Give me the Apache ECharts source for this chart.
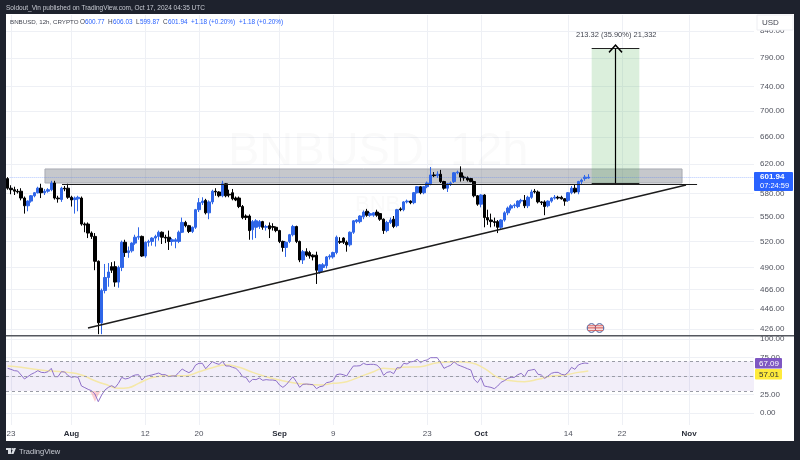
<!DOCTYPE html>
<html><head><meta charset="utf-8">
<style>html,body{margin:0;padding:0;background:#1E222D;width:800px;height:460px;overflow:hidden}
#panel{position:absolute;left:6px;top:14px;width:788px;height:427px;background:#fff}
#c{position:absolute;left:0;top:0;width:800px;height:460px}</style>
<script src="https://cdn.jsdelivr.net/npm/echarts@6/dist/echarts.min.js"></script>
</head><body><div id="panel"></div><div id="c"></div>
<script>
const opens=[600,587,585,583,583,574,564,570,577,581,587,581,583,585,594,574,572,587,587,575,572,573,574,541,541,530,526,497,432,465,479,491,491,474,490,519,507,509,518,525,526,503,519,520,524,526,531,525,525,520,520,520,531,543,539,532,537,559,568,571,555,569,583,582,577,593,579,581,574,574,563,551,551,534,537,538,544,537,539,538,537,533,520,513,520,528,538,520,498.5,508,507,504,504,485,490,492,502,502,507,520,524,519,516,531,544,544,550,557,552,552,556,554,547,533,543,547,539,560,559,569,570,568,581,589,581,589,593,605,604,606,596,587,593,596,608,608,602,601,600,596,577,566,578,549,546,544,544,537,546,555,561,564,563,570,571,564,575,583,582,569,569,564,570,574,575,575,573,571,581,587,582,596,600,600.77];
const closes=[587,585,583,582,574,564,570,577,581,587,581,583,585,594,574,573,587,586,575,571.5,574,575,541,540,530,526,497,432,465,479,485,487,474,490,519,507,509,518,525,526,503,519,520,524,526,531,525,524,520,522,522,531,543,539,532,537,559,568,570,555,569,583,582,577,593,577,578,573,571.5,563,549,549,533,544,545,544,537,538,535,537,533,520,513,519,528,538,520,498.5,508,504,503,502,487,493,493,502,503,507,525,519,519,516,531,545,546,551,556,552,554,555,552,547,533,543,546,538,559,559,569,570,568,581,589,581,589,594,605,604,606,596,587,593,594,608,609,602,601,598,596,577,566,578,549,546,544,543,537,546,555,561,564,565,570,571,564,575,582,582,569,568,563,570,574,575,574,573,570,581,587,582,596,598,602,601.94];
const lows=[585,579,578,580,571,554,557,568,575,580,574,578,581,583,572,568,569,583,573,563,554,557,539,531,524,523,487,421,421,462,469,484,469,468,486,502,501,507,516,522,502,501,514,515,514,521,517,518,510,515,512,518,530,537,530,530,535,556,565,553,547,566,577,575,575,575,575,571,570,561,547,546,522,522,524,535,534,533,524,533,531,518,508,502,518,526,518,496,494,502,500,498,472,483,486,489,499,500,505,517,517,508,514,529,542,542,547,550,550,550,550,545,529,531,541,536,537,557,557,567,566,566,580,579,579,587,591,602,601,594,585,582,590,594,606,596,597,596,595,575,564,562,537,540,537,538,530,535,544,552,558,561,561,567,561,561,573,580,567,565,552,562,568,572,572,572,564,569,579,580,579,592,597,599.87];
const highs=[602,591,589,586,587,576,571,578,582,589,593,586,587,597,597,577,589,590,593,577,576,577,576,543,543,532,530,498,467,494,495,496,497,492,521,522,514,519,528,537,527,520,522,525,528,533,532,528,533,524,524,533,549,545,540,538,560,574,575,573,571,585,587,583,597,594,585,586,576,576,565,553,553,546,547,546,545,540,543,542,538,534,521,520,529,540,539,521,510,512,509,505,508,494,495,503,505,508,527,525,525,521,532,546,547,552,558,560,556,556,559,555,548,545,549,551,560,562,570,572,571,582,590,590,590,596,616,609,610,612,597,594,596,609,611,617,604,603,601,597,578,579,579,559,554,549,546,547,557,563,566,567,571,573,578,577,585,586,584,570,571,571,575,578,577,577,574,582,590,592,597,600,605,606.03];
const rsiValues=[60.5,59.2,57.4,56.9,51.6,46.2,49.3,52.5,54.7,57.4,55.1,54.7,56,60.5,49.3,49.3,56,55.6,50.7,48.4,49.3,48.4,36.7,34.5,32.2,30.4,26,15.6,24.6,31.3,34.9,37.2,34.5,40.3,48.4,46.2,47.1,49.8,51.6,52,44.8,49.3,50.7,51.6,52.9,54.2,52,52,49.3,50.2,50.2,55.1,59.6,56.9,54.7,57.4,65,67.3,67.3,60,65,69.5,67.3,65.9,70,63.7,63.7,61.9,60.5,56,49.3,48.4,41.7,45.7,45.3,47.5,44.4,45.3,44.8,44.8,43.9,38.1,34.9,38.5,43.9,49.3,42.6,34.9,39,39.4,39,38.5,33.1,35.8,36.7,41.2,42.1,43.9,52,52.9,52,50.2,57.4,63.7,63.7,64.1,67.3,65.5,65.9,65.9,65,60.5,51.1,55.1,56,53.3,61.4,61,67.3,66.4,69.1,70,72.7,68.2,70.9,71.8,74.9,74.9,74.9,68.2,60.5,62.8,64.6,69.5,65.5,63.7,61.9,60,58.3,45.7,41.2,48,36.7,35.8,34.9,33.1,36.7,41.7,43.9,47.1,48.4,48.4,52,53.8,49.3,57.4,58.3,59.2,52.5,51.6,47.1,50.2,53.8,55.1,55.1,52.5,51.6,55.1,61.9,59.2,65,66.8,67.7,67.09];
const maIndex=[0,4,8,13,18,22,26,30,33,36,39,43,47,53,57,61,65,69,73,77,81,85,89,93,97,101,105,109,112,116,117,123,128,134,138,142,146,150,154,158,162,166,170,173];
const maValues=[63.7,61.9,59.2,56.9,55.1,51.6,43.9,37.6,33.6,34.5,40.3,48,50.7,50.7,56,61.4,65,61.9,55.1,49.3,44.8,41.2,39,38.1,40.3,42.6,49.3,56,60.5,59.2,61.9,62.8,68.2,69.5,68.2,60.5,48.4,43.9,42.6,45.7,50.2,51.6,55.1,57.01];
const oversoldDays=[11.7,12,12.5,13,13.4];
const oversoldValues=[30,26,15.6,24.6,30];
const priceTicks=[426,446,466,490,520,550,580,620,660,700,740,790,840];
const rsiTicks=[0,25,50,75,100];
const dayTicks=[0,9,20,28,40,48,62,70,83,91,101];
const dayLabels=['23','Aug','12','20','Sep','9','23','Oct','14','22','Nov'];
const boldLabels=['Aug','Sep','Oct','Nov'];
const resistanceZone=[[5.06,613.3],[99.96,594]];
const supportLevel=[[7.6,592.6],[102.2,592.6]];
const trendLine=[[11.47,427],[100.55,591.4]];
const targetBox=[[86.5,807],[93.6,593.7]];
const arrowDay=90.05;
const lastPrice=601.94, rsiLast=67.09, maLast=57.01;

const FONT='"Liberation Sans",sans-serif';
const candles=opens.map((o,i)=>[(i-1)/2,o,closes[i],lows[i],highs[i]]);
const rsiLine=rsiValues.map((v,i)=>[(i-1)/2,v]);
const maLine=maIndex.map((k,i)=>[(k-1)/2,maValues[i]]);
const oversold=oversoldDays.map((d,i)=>[d,oversoldValues[i]]);
const GRID='#EEF0F5';
function xAxis(idx,showLabels){return{type:'value',gridIndex:idx,min:-0.745,max:110.68,
  axisLine:{show:false},axisTick:{show:false,customValues:dayTicks},
  splitLine:{show:true,lineStyle:{color:GRID,width:1}},
  axisLabel:{show:showLabels,customValues:dayTicks,margin:5,fontSize:8,fontFamily:FONT,color:'#50535E',
    formatter:v=>{const s=dayLabels[dayTicks.indexOf(v)];return boldLabels.includes(s)?'{b|'+s+'}':s;},
    rich:{b:{fontWeight:'bold',fontSize:8,fontFamily:FONT,color:'#2A2E39'}}}};}
function yAxis(idx,extra,ticks){return Object.assign({gridIndex:idx,position:'right',
  axisLine:{show:false},axisTick:{show:false,customValues:ticks},
  splitLine:{show:true,lineStyle:{color:GRID,width:1}},
  axisLabel:{customValues:ticks,margin:6,fontSize:8,fontFamily:FONT,color:'#50535E',formatter:v=>Number(v).toFixed(2)}},extra);}
const txt=(x,y,s,fill,size,more)=>({type:'text',x,y,z:50,silent:true,style:Object.assign({text:s,fill,fontSize:size,fontFamily:FONT,verticalAlign:'middle'},more||{})});
const option={animation:false,backgroundColor:'transparent',
 grid:[{left:6,right:46,top:15,height:320},{left:6,right:46,top:336,height:89}],
 xAxis:[xAxis(0,false),xAxis(1,true)],
 yAxis:[yAxis(0,{type:'log',logBase:10,min:420.2,max:870.9},priceTicks),yAxis(1,{type:'value',min:-15.8,max:104.1},rsiTicks)],
 series:[
  {type:'candlestick',xAxisIndex:0,yAxisIndex:0,barWidth:3,data:candles,encode:{x:0,y:[1,2,3,4]},
   itemStyle:{color:'#2F66E8',color0:'#000',borderColor:'#2F66E8',borderColor0:'#000',borderWidth:1}},
  {type:'line',xAxisIndex:0,yAxisIndex:0,data:trendLine,symbol:'none',lineStyle:{color:'#1c1c1c',width:1.5},z:5,
   markArea:{silent:true,data:[
     [{xAxis:resistanceZone[0][0],yAxis:resistanceZone[0][1],itemStyle:{color:'rgba(120,123,134,0.42)',borderColor:'#A9ABB3',borderWidth:1}},{xAxis:resistanceZone[1][0],yAxis:resistanceZone[1][1]}],
     [{xAxis:targetBox[0][0],yAxis:targetBox[0][1],itemStyle:{color:'rgba(76,175,80,0.2)'}},{xAxis:targetBox[1][0],yAxis:targetBox[1][1]}]]},
   markLine:{silent:true,animation:false,symbol:'none',label:{show:false},data:[
     [{coord:supportLevel[0],lineStyle:{color:'#1c1c1c',width:1.2,type:'solid'}},{coord:supportLevel[1]}],
     [{coord:[targetBox[0][0],targetBox[0][1]],lineStyle:{color:'#222',width:1.2,type:'solid'}},{coord:[targetBox[1][0],targetBox[0][1]]}],
     [{coord:[targetBox[0][0],targetBox[1][1]],lineStyle:{color:'#222',width:1.2,type:'solid'}},{coord:[targetBox[1][0],targetBox[1][1]]}],
     [{coord:[arrowDay,targetBox[1][1]],symbol:'none',lineStyle:{color:'#000',width:1.2,type:'solid'}},{coord:[arrowDay,targetBox[0][1]],symbol:'path://M0,0 L10,10 L8.6,11.4 L0,2.8 L-8.6,11.4 L-10,10 Z',symbolSize:[14,9]}],
     [{coord:[-0.2,lastPrice],lineStyle:{color:'rgba(41,98,255,0.35)',width:1,type:'dotted'}},{coord:[110.68,lastPrice]}]]}},
  {type:'line',xAxisIndex:1,yAxisIndex:1,data:oversold,symbol:'none',lineStyle:{width:0},areaStyle:{origin:30,color:'rgba(242,54,69,0.35)'},z:2},
  {type:'line',xAxisIndex:1,yAxisIndex:1,data:maLine,smooth:true,symbol:'none',lineStyle:{color:'#F5E8A8',width:1.5},z:3},
  {type:'line',xAxisIndex:1,yAxisIndex:1,data:rsiLine,symbol:'none',lineStyle:{color:'#8E70C8',width:1},z:4,
   markArea:{silent:true,itemStyle:{color:'rgba(126,87,194,0.1)'},data:[[{yAxis:70,xAxis:-0.745},{yAxis:30,xAxis:110.68}]]},
   markLine:{silent:true,animation:false,symbol:'none',label:{show:false},lineStyle:{color:'#9A9CA6',width:1,type:[3,3]},data:[{yAxis:70},{yAxis:50},{yAxis:30}]}}
 ],
 graphic:[
  txt(6,8,'Soldout_Vin published on TradingView.com, Oct 17, 2024 04:35 UTC','#C8CBD3',6.5),
  txt(10,22,'BNBUSD, 12h, CRYPTO','#434651',6.2),
  txt(80,22,'O','#434651',6.4),txt(85,22,'600.77','#2962FF',6.4),
  txt(108,22,'H','#434651',6.4),txt(113,22,'606.03','#2962FF',6.4),
  txt(136,22,'L','#434651',6.4),txt(140,22,'599.87','#2962FF',6.4),
  txt(163,22,'C','#434651',6.4),txt(168,22,'601.94','#2962FF',6.4),
  txt(191,22,'+1.18 (+0.20%)','#2962FF',6.4),txt(239,22,'+1.18 (+0.20%)','#2962FF',6.4),
  txt(228,152,'BNBUSD, 12h','rgba(42,46,57,0.025)',47),
  txt(355,205,'BNB','rgba(42,46,57,0.025)',22),
  txt(576,35,'213.32 (35.90%) 21,332','#434651',7.5),
  {type:'rect',z:49,shape:{x:6,y:335,width:788,height:1.4},style:{fill:'#55585f'}},
  {type:'rect',z:49,shape:{x:757,y:15,width:36,height:15},style:{fill:'#fff',stroke:'#EDEEF2',lineWidth:1}},
  txt(762,23,'USD','#434651',8),
  {type:'rect',z:49,shape:{x:754,y:172,width:39,height:19,r:1},style:{fill:'#2962FF'}},
  txt(760,177,'601.94','#fff',8,{fontWeight:'bold'}),txt(760,185.5,'07:24:59','#fff',7.5),
  {type:'rect',z:49,shape:{x:755,y:358,width:27,height:10.5,r:1},style:{fill:'#7E57C2'}},
  txt(769,363.5,'67.09','#fff',8,{align:'center'}),
  {type:'rect',z:49,shape:{x:755,y:369,width:27,height:10.5,r:1},style:{fill:'#FFEB3B'}},
  txt(769,374.5,'57.01','#333',8,{align:'center'}),
  {type:'circle',z:49,shape:{cx:591.5,cy:328,r:4.3},style:{fill:'#fff',stroke:'#3d4f8f',lineWidth:1}},
  {type:'circle',z:49,shape:{cx:599.5,cy:328,r:4.3},style:{fill:'#fff',stroke:'#3d4f8f',lineWidth:1}},
  {type:'rect',z:50,shape:{x:588,y:327.3,width:15,height:1.2},style:{fill:'#D9534F'}},
  {type:'rect',z:50,shape:{x:588,y:325.3,width:15,height:1},style:{fill:'#D9534F'}},
  {type:'rect',z:50,shape:{x:588,y:329.8,width:15,height:1},style:{fill:'#D9534F'}},
  {type:'rect',z:50,shape:{x:6,y:448,width:5,height:2},style:{fill:'#DADDE3'}},
  {type:'rect',z:50,shape:{x:8,y:450,width:3,height:4},style:{fill:'#DADDE3'}},
  {type:'circle',z:50,shape:{cx:12.3,cy:449,r:1},style:{fill:'#DADDE3'}},
  {type:'polygon',z:50,shape:{points:[[13.5,448],[16,448],[13.5,454],[11,454]]},style:{fill:'#DADDE3'}},
  txt(19,451.5,'TradingView','#C8CBD3',7.5)
 ]};
echarts.init(document.getElementById('c'),null,{renderer:'canvas'}).setOption(option);
</script></body></html>
